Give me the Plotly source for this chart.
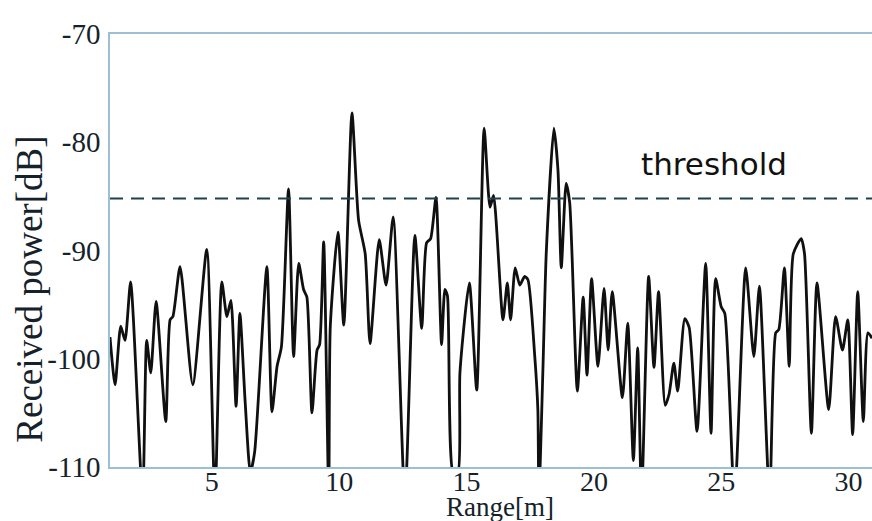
import plotly.graph_objects as go

# Received power profile versus range
range_m = [
    1.00, 1.20, 1.42, 1.59, 1.81, 2.28, 2.44, 2.60, 2.81, 3.19,
    3.36, 3.47, 3.75, 4.25, 4.80, 5.12, 5.39, 5.59, 5.75, 5.95,
    6.10, 6.31, 6.51, 6.68, 7.16, 7.36, 7.56, 7.73, 8.01, 8.21,
    8.41, 8.60, 8.73, 8.93, 9.13, 9.23, 9.39, 9.59, 9.65, 9.95,
    10.18, 10.50, 10.76, 11.02, 11.21, 11.57, 11.84, 12.12, 12.58, 12.97,
    13.24, 13.43, 13.59, 13.80, 14.02, 14.15, 14.25, 14.47, 14.66, 14.74,
    15.11, 15.40, 15.69, 15.92, 16.06, 16.43, 16.60, 16.73, 16.91, 17.09,
    17.28, 17.41, 17.67, 17.80, 17.84, 18.00, 18.13, 18.43, 18.59, 18.72,
    18.91, 19.05, 19.35, 19.58, 19.73, 19.91, 20.16, 20.40, 20.56, 20.72,
    21.12, 21.33, 21.55, 21.72, 21.87, 22.15, 22.36, 22.54, 22.80, 22.95,
    23.14, 23.29, 23.57, 23.74, 24.05, 24.39, 24.60, 24.78, 25.00, 25.14,
    25.52, 25.96, 26.28, 26.50, 26.90, 27.14, 27.26, 27.48, 27.67, 27.83,
    28.14, 28.27, 28.54, 28.76, 29.22, 29.49, 29.76, 29.97, 30.16, 30.36,
    30.58, 30.76, 30.92,
]
power_db = [
    -98.0, -102.4, -97.0, -98.3, -92.9, -113.0, -98.3, -101.3, -94.7, -105.8,
    -96.4, -96.1, -91.5, -102.4, -89.9, -113.0, -92.9, -96.1, -94.6, -104.4,
    -95.8, -104.1, -110.5, -108.6, -91.5, -104.9, -100.7, -98.9, -84.3, -99.8,
    -91.2, -93.6, -94.3, -105.0, -99.2, -98.7, -89.2, -113.0, -97.0, -88.3,
    -96.9, -77.3, -87.2, -90.3, -98.6, -89.0, -93.2, -86.9, -113.0, -88.6,
    -97.2, -89.3, -88.9, -85.1, -98.7, -93.6, -94.2, -110.5, -110.5, -101.3,
    -93.0, -102.9, -78.7, -86.0, -84.9, -96.4, -93.0, -96.4, -91.6, -93.2,
    -92.4, -92.7, -99.5, -104.7, -113.0, -100.9, -90.2, -78.7, -82.6, -91.6,
    -83.8, -85.6, -103.0, -94.3, -101.5, -92.6, -100.7, -93.5, -99.2, -93.8,
    -103.6, -96.7, -109.4, -99.0, -113.0, -92.4, -100.8, -93.8, -104.3, -103.3,
    -100.4, -103.0, -96.3, -97.1, -106.7, -91.2, -106.9, -92.6, -95.2, -95.8,
    -113.0, -91.6, -99.8, -93.3, -113.0, -97.6, -97.3, -91.6, -100.7, -90.3,
    -88.9, -90.3, -106.9, -93.0, -104.7, -96.1, -99.2, -96.4, -107.0, -93.8,
    -105.8, -97.6, -98.1,
]
threshold_db = -85.2

x_ticks = [5, 10, 15, 20, 25, 30]
y_ticks = [-70, -80, -90, -100, -110]

frame_color = "#9dbfd3"
text_color = "#15222a"
serif = "Liberation Serif"

fig = go.Figure()
fig.add_trace(go.Scatter(
    x=range_m, y=power_db, mode="lines",
    line=dict(color="#101010", width=2.8, shape="spline", smoothing=0.6),
    showlegend=False, hoverinfo="skip",
))

# dashed threshold line across the whole plot
fig.add_shape(
    type="line", xref="paper", x0=0, x1=1, yref="y", y0=threshold_db, y1=threshold_db,
    line=dict(color="#20404e", width=2, dash="13px,8px"),
)

fig.add_annotation(
    x=24.73, y=-82.0, xref="x", yref="y", text="threshold", showarrow=False,
    font=dict(family="DejaVu Sans", size=31, color="#111111"),
    xanchor="center", yanchor="middle",
)
fig.add_annotation(
    x=0.512, y=-0.092, xref="paper", yref="paper", text="Range[m]", showarrow=False,
    font=dict(family=serif, size=27, color=text_color),
    xanchor="center", yanchor="middle",
)
fig.add_annotation(
    x=-0.106, y=0.41, xref="paper", yref="paper", text="Received power[dB]",
    showarrow=False, textangle=-90,
    font=dict(family=serif, size=37, color=text_color),
    xanchor="center", yanchor="middle",
)

fig.update_layout(
    width=872, height=521,
    margin=dict(l=110, r=0, t=34, b=54),
    paper_bgcolor="white", plot_bgcolor="white",
    xaxis=dict(
        range=[1, 30.92], tickvals=x_ticks, ticktext=[str(v) for v in x_ticks],
        showgrid=False, zeroline=False, showline=True, mirror=True,
        linecolor=frame_color, linewidth=1.5, ticks="",
        tickfont=dict(family=serif, size=28, color=text_color),
        ticklabelstandoff=-11,
    ),
    yaxis=dict(
        range=[-110, -70], tickvals=y_ticks, ticktext=[str(v) for v in y_ticks],
        showgrid=False, zeroline=False, showline=True, mirror=False,
        linecolor=frame_color, linewidth=1.5, ticks="",
        tickfont=dict(family=serif, size=29, color=text_color),
        ticklabelstandoff=2,
    ),
)

fig.write_html("out.html")
